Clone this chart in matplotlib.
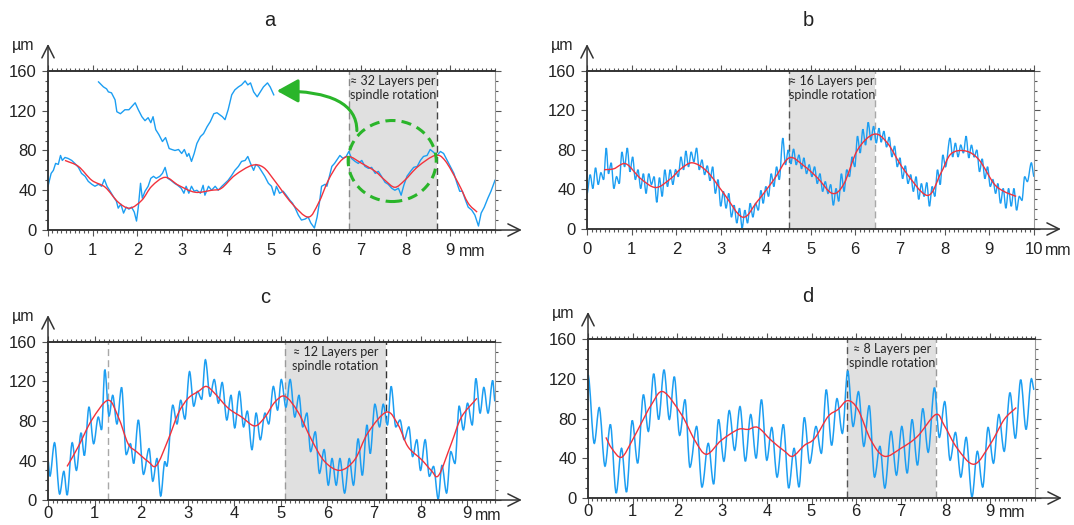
import numpy as np
import matplotlib
matplotlib.use("Agg")
import matplotlib.pyplot as plt
from matplotlib.path import Path
from matplotlib.patches import PathPatch, Ellipse, FancyArrowPatch
from matplotlib.ticker import MultipleLocator

plt.rcParams['font.family'] = ['Liberation Sans', 'DejaVu Sans']

# ---- panel a: surface profile (mm, µm) ----
a_x = [0.00, 0.07, 0.12, 0.17, 0.23, 0.28, 0.32, 0.38, 0.45, 0.53,
       0.60, 0.68, 0.75, 0.83, 0.90, 0.98, 1.05, 1.13, 1.20, 1.26,
       1.32, 1.39, 1.47, 1.53, 1.57, 1.63, 1.69, 1.75, 1.81, 1.87,
       1.93, 1.98, 2.02, 2.07, 2.11, 2.17, 2.24, 2.30, 2.36, 2.42,
       2.50, 2.56, 2.62, 2.68, 2.75, 2.83, 2.90, 2.98, 3.04, 3.09,
       3.15, 3.21, 3.27, 3.33, 3.41, 3.47, 3.51, 3.59, 3.66, 3.74,
       3.81, 3.89, 3.96, 4.03, 4.11, 4.18, 4.26, 4.33, 4.41, 4.47,
       4.53, 4.60, 4.65, 4.71, 4.78, 4.85, 4.93, 5.00, 5.06, 5.11,
       5.18, 5.26, 5.33, 5.41, 5.47, 5.53, 5.60, 5.67, 5.75, 5.82,
       5.88, 5.96, 6.02, 6.08, 6.12, 6.20, 6.24, 6.29, 6.35, 6.41,
       6.47, 6.53, 6.60, 6.67, 6.73, 6.79, 6.87, 6.94, 7.02, 7.09,
       7.17, 7.24, 7.32, 7.39, 7.46, 7.54, 7.61, 7.69, 7.76, 7.84,
       7.90, 7.96, 8.03, 8.11, 8.18, 8.26, 8.33, 8.40, 8.48, 8.55,
       8.63, 8.70, 8.78, 8.85, 8.93, 9.00, 9.08, 9.15, 9.21, 9.27,
       9.34, 9.40, 9.48, 9.55, 9.63, 9.69, 9.76, 9.84, 9.91, 10.00]
a_y = [44, 57, 60, 67, 66, 75, 70, 73, 72, 70,
       67, 63, 57, 54, 49, 46, 44, 46, 44, 51,
       44, 39, 33, 29, 22, 26, 17, 23, 21, 23,
       18, 9, 23, 47, 32, 39, 44, 52, 54, 52,
       54, 57, 63, 52, 50, 47, 45, 42, 37, 44,
       37, 44, 39, 40, 37, 45, 35, 44, 40, 44,
       40, 44, 47, 50, 55, 60, 64, 69, 70, 74,
       67, 60, 66, 64, 59, 54, 47, 44, 35, 44,
       37, 39, 35, 30, 27, 22, 15, 10, 11, 13,
       7, 2, 13, 30, 44, 46, 44, 53, 64, 67,
       71, 75, 72, 74, 79, 72, 69, 67, 70, 64,
       62, 63, 57, 59, 54, 48, 46, 42, 40, 42,
       35, 45, 54, 59, 63, 64, 70, 74, 75, 81,
       78, 75, 79, 77, 70, 64, 57, 47, 39, 39,
       30, 23, 20, 15, 4, 17, 23, 32, 39, 50]
a_red_x = [0.38, 0.68, 0.98, 1.28, 1.57, 1.83, 2.10, 2.32, 2.62, 2.92,
           3.29, 3.66, 3.88, 4.18, 4.56, 4.82, 5.08, 5.45, 5.82, 6.05,
           6.27, 6.50, 6.72, 7.02, 7.32, 7.54, 7.76, 7.98, 8.28, 8.66,
           8.88, 9.18, 9.40, 9.60]
a_red_y = [70, 64, 50, 43, 28, 22, 30, 44, 53, 45,
           38, 40, 42, 55, 65, 63, 49, 27, 13, 27,
           50, 67, 74, 67, 59, 50, 43, 50, 64, 75,
           70, 47, 27, 18]
# magnified detail of the circled region
a_zoom_x = [1.13, 1.24, 1.31, 1.35, 1.42, 1.50, 1.54, 1.62, 1.72, 1.81,
            1.89, 1.95, 2.02, 2.10, 2.17, 2.24, 2.30, 2.35, 2.41, 2.48,
            2.56, 2.63, 2.71, 2.77, 2.84, 2.92, 2.99, 3.05, 3.11, 3.15,
            3.21, 3.27, 3.33, 3.41, 3.48, 3.56, 3.63, 3.71, 3.78, 3.84,
            3.90, 3.96, 4.03, 4.11, 4.18, 4.26, 4.33, 4.41, 4.47, 4.53,
            4.60, 4.68, 4.75, 4.82, 4.91, 4.97, 5.05]
a_zoom_y = [149, 144, 142, 139, 138, 131, 119, 117, 121, 121,
            125, 128, 121, 114, 110, 113, 108, 114, 101, 96,
            89, 93, 82, 81, 80, 81, 77, 81, 74, 77,
            69, 77, 87, 94, 97, 104, 109, 117, 118, 116,
            114, 111, 121, 136, 141, 144, 146, 150, 146, 148,
            139, 134, 139, 144, 148, 144, 136]

# ---- panel b (turning points of the profile) ----
b_x = [0.00, 0.07, 0.13, 0.19, 0.25, 0.31, 0.37, 0.43, 0.48, 0.54,
       0.60, 0.66, 0.72, 0.78, 0.84, 0.90, 0.96, 1.02, 1.08, 1.14,
       1.20, 1.26, 1.32, 1.38, 1.44, 1.50, 1.56, 1.62, 1.68, 1.74,
       1.80, 1.86, 1.92, 1.98, 2.04, 2.10, 2.16, 2.21, 2.27, 2.33,
       2.39, 2.45, 2.51, 2.57, 2.63, 2.69, 2.75, 2.81, 2.87, 2.93,
       2.99, 3.05, 3.11, 3.17, 3.23, 3.29, 3.35, 3.41, 3.47, 3.53,
       3.59, 3.65, 3.71, 3.77, 3.83, 3.89, 3.94, 4.00, 4.06, 4.12,
       4.18, 4.24, 4.30, 4.38, 4.44, 4.50, 4.56, 4.62, 4.68, 4.74,
       4.80, 4.85, 4.91, 4.97, 5.03, 5.09, 5.15, 5.21, 5.27, 5.33,
       5.39, 5.45, 5.51, 5.57, 5.63, 5.69, 5.75, 5.81, 5.87, 5.93,
       5.99, 6.05, 6.11, 6.17, 6.23, 6.29, 6.35, 6.41, 6.47, 6.53,
       6.58, 6.64, 6.70, 6.76, 6.82, 6.88, 6.94, 7.00, 7.06, 7.12,
       7.18, 7.24, 7.30, 7.36, 7.42, 7.48, 7.54, 7.60, 7.66, 7.72,
       7.78, 7.84, 7.90, 7.96, 8.02,
       8.12, 8.18, 8.24, 8.30, 8.36, 8.42, 8.48, 8.54, 8.60, 8.66,
       8.72, 8.78, 8.84, 8.90, 8.96, 9.02, 9.08, 9.14, 9.19, 9.25,
       9.31, 9.37, 9.43, 9.49, 9.55, 9.61, 9.67, 9.73, 9.79, 9.85,
       9.94, 10.00]
b_y = [36, 55, 41, 62, 45, 57, 50, 82, 56, 67,
       41, 53, 46, 78, 63, 82, 58, 73, 50, 60,
       41, 56, 36, 56, 45, 53, 27, 52, 33, 60,
       43, 60, 45, 60, 53, 73, 60, 79, 63, 78,
       68, 82, 60, 70, 55, 64, 49, 63, 36, 50,
       23, 38, 21, 36, 12, 24, 6, 21, 1, 19,
       6, 26, 12, 26, 19, 39, 26, 43, 33, 56,
       43, 63, 50, 92, 65, 80, 66, 81, 65, 75,
       61, 72, 56, 65, 53, 63, 46, 56, 38, 48,
       36, 45, 24, 41, 28, 56, 38, 60, 53, 73,
       63, 94, 77, 101, 85, 108, 90, 104, 87, 102,
       88, 99, 83, 93, 73, 84, 63, 72, 51, 64,
       46, 55, 38, 53, 30, 46, 33, 47, 23, 43,
       33, 60, 45, 75, 63,
       92, 73, 87, 73, 85, 77, 94, 72, 85, 73,
       80, 58, 71, 51, 63, 43, 50, 36, 46, 26,
       41, 21, 41, 23, 41, 19, 33, 29, 53, 48,
       67, 53]
b_red_x = [0.38, 0.60, 0.87, 1.20, 1.54, 1.87, 2.10, 2.36, 2.69, 3.06,
           3.48, 3.81, 4.18, 4.52, 4.85, 5.15, 5.49, 5.75, 6.05, 6.42,
           6.72, 7.09, 7.61, 7.91, 8.14, 8.47, 8.77, 9.10, 9.33, 9.60]
b_red_y = [60, 61, 66, 51, 42, 51, 61, 67, 58, 36,
           12, 28, 50, 72, 64, 52, 36, 46, 80, 96,
           87, 60, 34, 56, 76, 79, 70, 46, 38, 33]

# ---- panel c ----
c_x = [0.00, 0.04, 0.14, 0.25, 0.34, 0.41, 0.52, 0.61, 0.71, 0.78,
       0.88, 0.98, 1.08, 1.15, 1.22, 1.31, 1.39, 1.48, 1.58, 1.68,
       1.77, 1.84, 1.94, 2.05, 2.17, 2.25, 2.34, 2.42, 2.51, 2.55,
       2.68, 2.77, 2.85, 2.94, 3.04, 3.13, 3.21, 3.30, 3.38, 3.48,
       3.57, 3.66, 3.74, 3.84, 3.93, 4.01, 4.11, 4.20, 4.28, 4.38,
       4.47, 4.56, 4.66, 4.74, 4.84, 4.93, 5.01, 5.11, 5.20, 5.30,
       5.39, 5.47, 5.56, 5.64, 5.74, 5.83, 5.93, 6.02, 6.10, 6.19,
       6.27, 6.37, 6.47, 6.56, 6.66, 6.75, 6.85, 6.92, 7.02, 7.12,
       7.20, 7.29, 7.37, 7.47, 7.56, 7.65, 7.75, 7.83, 7.92, 8.00,
       8.10, 8.19, 8.28, 8.38, 8.46, 8.56, 8.65, 8.74, 8.83, 8.92,
       9.01, 9.11, 9.19, 9.28, 9.36, 9.45, 9.55, 9.60]
c_y = [40, 24, 58, 6, 29, 5, 58, 30, 68, 45,
       94, 57, 84, 71, 132, 85, 106, 77, 114, 46,
       57, 37, 81, 26, 52, 19, 42, 4, 39, 34,
       96, 77, 101, 82, 130, 95, 110, 102, 142, 105,
       122, 98, 119, 81, 106, 73, 110, 74, 90, 51,
       88, 61, 88, 77, 115, 91, 122, 94, 122, 84,
       106, 74, 88, 49, 69, 27, 51, 15, 42, 15,
       42, 7, 42, 15, 62, 25, 76, 47, 97, 74,
       97, 76, 115, 74, 81, 61, 74, 44, 61, 30,
       61, 24, 34, 1, 35, 7, 49, 37, 95, 71,
       98, 76, 123, 88, 114, 88, 121, 100]
c_red_x = [0.41, 0.65, 0.94, 1.29, 1.51, 1.72, 1.90, 2.15, 2.33, 2.58,
           2.80, 3.01, 3.23, 3.40, 3.58, 3.87, 4.16, 4.44, 4.66, 4.87,
           5.09, 5.37, 5.66, 5.94, 6.27, 6.59, 6.87, 7.27, 7.52, 7.73,
           8.02, 8.23, 8.39, 8.66, 8.88, 9.21]
c_red_y = [34, 54, 81, 101, 84, 57, 49, 39, 35, 61,
           88, 103, 110, 115, 108, 93, 84, 75, 84, 99,
           105, 89, 61, 39, 30, 41, 68, 89, 76, 54,
           41, 30, 25, 57, 84, 103]

# ---- panel d ----
d_x = [0.00, 0.14, 0.25, 0.38, 0.50, 0.63, 0.75, 0.86, 0.99, 1.11,
       1.24, 1.35, 1.47, 1.58, 1.70, 1.82, 1.93, 2.05, 2.17, 2.28,
       2.43, 2.55, 2.69, 2.81, 2.92, 3.04, 3.16, 3.28, 3.40, 3.52,
       3.64, 3.76, 3.88, 4.00, 4.11, 4.23, 4.37, 4.49, 4.61, 4.72,
       4.84, 4.96, 5.10, 5.22, 5.33, 5.45, 5.57, 5.69, 5.81, 5.93,
       6.05, 6.17, 6.29, 6.41, 6.53, 6.64, 6.78, 6.90, 7.02, 7.14,
       7.25, 7.37, 7.49, 7.61, 7.75, 7.86, 7.98, 8.10, 8.22, 8.34,
       8.46, 8.59, 8.71, 8.83, 8.95, 9.07, 9.19, 9.31, 9.44, 9.56,
       9.68, 9.80, 9.92, 9.98]
d_y = [124, 55, 91, 32, 74, 5, 50, 6, 78, 35,
       104, 67, 125, 79, 129, 79, 122, 63, 99, 31,
       72, 11, 55, 14, 79, 37, 88, 48, 92, 37,
       84, 40, 99, 38, 71, 21, 74, 10, 50, 11,
       81, 35, 72, 45, 109, 53, 100, 65, 128, 72,
       107, 52, 93, 21, 52, 10, 67, 23, 72, 25,
       79, 33, 90, 46, 111, 61, 97, 38, 66, 21,
       61, 1, 47, 11, 71, 35, 84, 47, 106, 60,
       119, 69, 120, 109]
d_red_x = [0.40, 0.53, 0.75, 0.99, 1.20, 1.42, 1.68, 2.09, 2.39, 2.65,
           2.98, 3.36, 3.58, 3.80, 4.10, 4.40, 4.58, 4.84, 5.07, 5.37,
           5.59, 5.81, 6.04, 6.33, 6.63, 7.00, 7.37, 7.78, 7.97, 8.26,
           8.64, 9.01, 9.31, 9.58]
d_red_y = [61, 50, 41, 58, 76, 94, 107, 84, 58, 44,
           58, 69, 69, 71, 58, 47, 42, 53, 60, 82,
           89, 98, 89, 58, 42, 50, 62, 84, 73, 50,
           34, 55, 79, 91]

BLUE = '#1c9ef2'
RED = '#f2323c'
GREEN = '#2ab52a'
SHADE = '#e0e0e0'
TXT = '#222222'


def wave_path(x, y):
    # half-wave segments between turning points (flat at each extremum)
    verts = [(x[0], y[0])]
    codes = [Path.MOVETO]
    for i in range(1, len(x)):
        d = (x[i] - x[i - 1]) / 3
        verts += [(x[i - 1] + d, y[i - 1]), (x[i] - d, y[i]), (x[i], y[i])]
        codes += [Path.CURVE4] * 3
    return Path(verts, codes)


def smooth_path(x, y):
    # Catmull-Rom curve through the fitted points
    p = np.column_stack([x, y]).astype(float)
    m = np.gradient(p, axis=0)
    verts = [tuple(p[0])]
    codes = [Path.MOVETO]
    for i in range(1, len(p)):
        verts += [tuple(p[i - 1] + m[i - 1] / 3), tuple(p[i] - m[i] / 3), tuple(p[i])]
        codes += [Path.CURVE4] * 3
    return Path(verts, codes)


def setup(ax, xmax, nlab, mm_off, xpad):
    ax.set_xlim(0, xmax)
    ax.set_ylim(0, 160)
    for s in ['left', 'bottom']:
        ax.spines[s].set_color('#333333')
        ax.spines[s].set_linewidth(1.1)
    ax.spines['top'].set_color('#333333')
    ax.spines['top'].set_linewidth(1.4)
    ax.spines['right'].set_color('#9a9a9a')
    ax.spines['right'].set_linewidth(0.8)
    ax.set_xticks(range(0, nlab + 1))
    ax.xaxis.set_minor_locator(MultipleLocator(0.1))
    ax.set_yticks([0, 40, 80, 120, 160])
    ax.yaxis.set_minor_locator(MultipleLocator(10))
    ax.tick_params(which='both', direction='out', top=True, right=True,
                   color='#555555', width=0.8, labelsize=12, labelcolor=TXT)
    ax.tick_params(which='major', length=4, pad=4)
    ax.tick_params(which='minor', length=2.5)
    ax.tick_params(axis='x', which='major', pad=xpad)
    ax.annotate('', xy=(0, 1.17), xytext=(0, 0), xycoords='axes fraction',
                arrowprops=dict(arrowstyle='->', lw=1.1, color='#333333',
                                mutation_scale=22, shrinkA=0, shrinkB=0))
    ax.annotate('', xy=(1.06, 0), xytext=(0, 0), xycoords='axes fraction',
                arrowprops=dict(arrowstyle='->', lw=1.1, color='#333333',
                                mutation_scale=22, shrinkA=0, shrinkB=0))
    ax.text(-0.056, 1.16, 'µm', transform=ax.transAxes, ha='center',
            va='center', fontsize=11.5, color=TXT)
    ax.annotate('mm', xy=(nlab, 0), xycoords=('data', 'axes fraction'),
                xytext=(mm_off, -(4 + xpad) - 1), textcoords='offset points',
                ha='left', va='top', fontsize=11.5, color=TXT)


def shade(ax, x0, x1, c0, c1, label):
    ax.axvspan(x0, x1, color=SHADE, lw=0, zorder=0)
    ax.axvline(x0, color=c0, lw=1.0, ls=(0, (5, 3)), zorder=1)
    ax.axvline(x1, color=c1, lw=1.0, ls=(0, (5, 3)), zorder=1)
    ax.text((x0 + x1) / 2, 156, label, ha='center', va='top', fontsize=9,
            family=['Lato', 'DejaVu Sans'], color='#262626',
            linespacing=1.2, zorder=4)


def profile(ax, path, color, lw, z):
    ax.add_patch(PathPatch(path, fc='none', ec=color, lw=lw, zorder=z,
                           clip_on=False))


fig = plt.figure(figsize=(10.74, 5.25), dpi=100)

ax_a = fig.add_axes([0.0447, 0.5619, 0.4162, 0.3029])
ax_b = fig.add_axes([0.5466, 0.5638, 0.4162, 0.3010])
ax_c = fig.add_axes([0.0447, 0.0476, 0.4162, 0.3010])
ax_d = fig.add_axes([0.5475, 0.0514, 0.4162, 0.3029])

setup(ax_a, 10, 9, 6, 5)
setup(ax_b, 10, 10, 8, 5)
setup(ax_c, 9.6, 9, 6, 0.5)
setup(ax_d, 10, 9, 6, 0)

shade(ax_a, 6.73, 8.70, '#8a8a8a', '#444444', '≈ 32 Layers per\nspindle rotation')
shade(ax_b, 4.52, 6.45, '#555555', '#a8a8a8', '≈ 16 Layers per\nspindle rotation')
shade(ax_c, 5.10, 7.25, '#9a9a9a', '#333333', '≈ 12 Layers per\nspindle rotation')
shade(ax_d, 5.80, 7.79, '#555555', '#9a9a9a', '≈ 8 Layers per\nspindle rotation')
ax_c.axvline(1.29, color='#a8a8a8', lw=1.0, ls=(0, (5, 3)), zorder=1)

# blue measured profiles
ax_a.plot(a_x, a_y, color=BLUE, lw=1.0, zorder=2, clip_on=False)
ax_a.plot(a_zoom_x, a_zoom_y, color=BLUE, lw=1.0, zorder=2)
profile(ax_b, wave_path(b_x, b_y), BLUE, 1.0, 2)
profile(ax_c, wave_path(c_x, c_y), BLUE, 1.1, 2)
profile(ax_d, wave_path(d_x, d_y), BLUE, 1.1, 2)

# red smoothed profiles
profile(ax_a, smooth_path(a_red_x, a_red_y), RED, 1.0, 3)
profile(ax_b, smooth_path(b_red_x, b_red_y), RED, 1.0, 3)
profile(ax_c, smooth_path(c_red_x, c_red_y), RED, 1.0, 3)
profile(ax_d, smooth_path(d_red_x, d_red_y), RED, 1.0, 3)

# green highlight in panel a
ax_a.add_patch(Ellipse((7.7, 69.4), 1.97, 81.5, fill=False, ec=GREEN, lw=2.2,
                       ls=(0, (3.3, 2)), zorder=5))
ax_a.add_patch(FancyArrowPatch((6.91, 100), (5.12, 140),
                               connectionstyle='angle3,angleA=90,angleB=0',
                               arrowstyle='-|>,head_length=1.3,head_width=0.72',
                               mutation_scale=10, lw=2.2, color=GREEN,
                               shrinkA=0, shrinkB=0, zorder=5))

for t, x, y in [('a', 0.2514, 0.960), ('b', 0.7523, 0.960),
                ('c', 0.2467, 0.434), ('d', 0.7523, 0.436)]:
    fig.text(x, y, t, ha='center', va='center', fontsize=14.5, color=TXT)

fig.savefig('out.png', dpi=100, facecolor='white')
